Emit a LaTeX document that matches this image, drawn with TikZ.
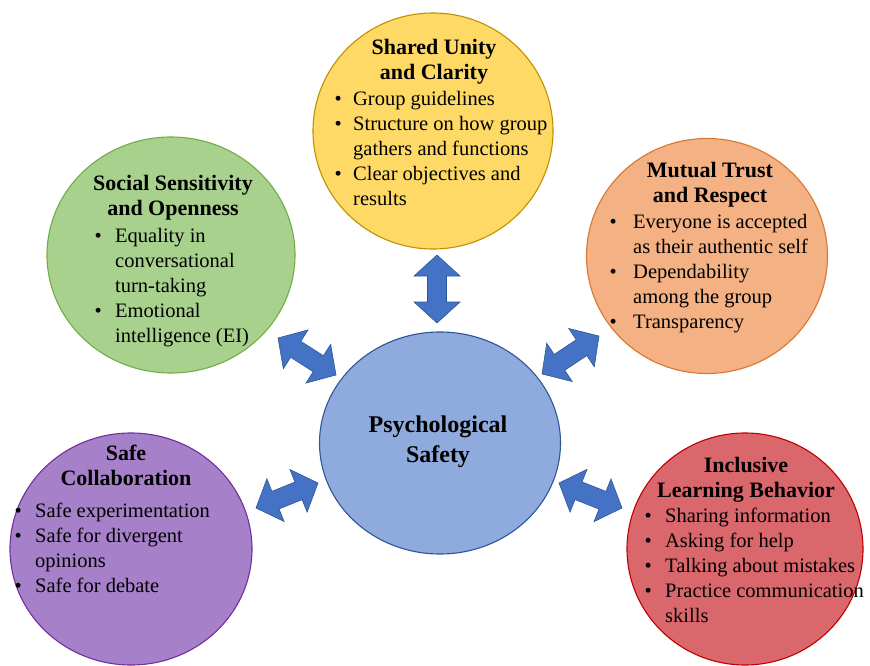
\documentclass[tikz,border=0pt]{standalone}
\usepackage{fontspec}
\setmainfont{Liberation Serif}
\usetikzlibrary{shapes.geometric,calc}
\definecolor{yelF}{HTML}{FFD966}\definecolor{yelD}{HTML}{BF9000}
\definecolor{grnF}{HTML}{A9D18E}\definecolor{grnD}{HTML}{70AD47}
\definecolor{orgF}{HTML}{F4B183}\definecolor{orgD}{HTML}{D9762F}
\definecolor{purF}{HTML}{A680C8}\definecolor{purD}{HTML}{7030A0}
\definecolor{redF}{HTML}{DA676B}\definecolor{redD}{HTML}{C00000}
\definecolor{ctrF}{HTML}{8FAADC}\definecolor{ctrD}{HTML}{2F5597}
\definecolor{arrF}{HTML}{4472C4}\definecolor{arrD}{HTML}{2F5597}
\tikzset{
  bubble/.style={ellipse, inner sep=0pt, line width=1.1pt},
  ttl/.style={font=\bfseries\fontsize{22}{25}\selectfont, inner sep=0pt, anchor=base},
  ctrttl/.style={font=\bfseries\fontsize{24}{30}\selectfont, inner sep=0pt, anchor=base},
  body/.style={font=\fontsize{20.5}{25}\selectfont, inner sep=0pt, anchor=base west},
  blockarrow/.style={fill=arrF, draw=arrD, line width=0.6pt, line join=miter},
}
\newcommand\dblarr[2]{%
  \path ($(#1)!21pt!(#2)$) coordinate (p1) ($(#2)!21pt!(#1)$) coordinate (p2);
  \draw[blockarrow] (#1) -- ($(p1)!23pt!90:(#2)$) -- ($(p1)!9.5pt!90:(#2)$)
    -- ($(p2)!9.5pt!-90:(#1)$) -- ($(p2)!23pt!-90:(#1)$) -- (#2)
    -- ($(p2)!23pt!90:(#1)$) -- ($(p2)!9.5pt!90:(#1)$)
    -- ($(p1)!9.5pt!-90:(#2)$) -- ($(p1)!23pt!-90:(#2)$) -- cycle;}
\begin{document}
\begin{tikzpicture}[x=1pt,y=-1pt]
\useasboundingbox (0,0) rectangle (870,666);
% circles
\node[bubble, fill=yelF, draw=yelD, minimum width=240pt, minimum height=236pt] (yel) at (433,131) {};
\node[bubble, fill=grnF, draw=grnD, minimum width=248pt, minimum height=236pt] (grn) at (171,255) {};
\node[bubble, fill=orgF, draw=orgD, minimum width=241pt, minimum height=235pt] (org) at (707,256) {};
\node[bubble, fill=ctrF, draw=ctrD, minimum width=241pt, minimum height=222pt] (ctr) at (440,443) {};
\node[bubble, fill=purF, draw=purD, minimum width=242pt, minimum height=232pt] (pur) at (131,549) {};
\node[bubble, fill=redF, draw=redD, minimum width=236pt, minimum height=232pt] (red) at (745,549) {};
% arrows
\coordinate (a1) at (437,255); \coordinate (b1) at (437,323);
\coordinate (a2) at (278,338); \coordinate (b2) at (336,375);
\coordinate (a3) at (542,374); \coordinate (b3) at (599,336);
\coordinate (a4) at (256,508); \coordinate (b4) at (318,483);
\coordinate (a5) at (559,483); \coordinate (b5) at (622,508);
\dblarr{a1}{b1}
\dblarr{a2}{b2}
\dblarr{a3}{b3}
\dblarr{a4}{b4}
\dblarr{a5}{b5}
% texts
\node[ctrttl] (ctrT) at (438,432) {\begin{tabular}[t]{@{}c@{}}Psychological\\Safety\end{tabular}};

\node[ttl] (yelT) at (434,55) {\begin{tabular}[t]{@{}c@{}}Shared Unity\\and Clarity\end{tabular}};
\node[body] (yelB) at (334.5,106) {\begin{tabular}[t]{@{}p{18.5pt}@{}l@{}}
\textbullet & Group guidelines\\
\textbullet & Structure on how group\\
 & gathers and functions\\
\textbullet & Clear objectives and\\
 & results\end{tabular}};

\node[ttl] (grnT) at (173,190) {\begin{tabular}[t]{@{}c@{}}Social Sensitivity\\and Openness\end{tabular}};
\node[body] (grnB) at (94.5,242) {\begin{tabular}[t]{@{}p{20.5pt}@{}l@{}}
\textbullet & Equality in\\
 & conversational\\
 & turn-taking\\
\textbullet & Emotional\\
 & intelligence (EI)\end{tabular}};

\node[ttl] (orgT) at (710,177) {\begin{tabular}[t]{@{}c@{}}Mutual Trust\\and Respect\end{tabular}};
\node[body] (orgB) at (609.5,228) {\begin{tabular}[t]{@{}p{23.5pt}@{}l@{}}
\textbullet & Everyone is accepted\\
 & as their authentic self\\
\textbullet & Dependability\\
 & among the group\\
\textbullet & Transparency\end{tabular}};

\node[ttl] (purT) at (126,460) {\begin{tabular}[t]{@{}c@{}}Safe\\Collaboration\end{tabular}};
\node[body] (purB) at (14.5,517) {\begin{tabular}[t]{@{}p{20.5pt}@{}l@{}}
\textbullet & Safe experimentation\\
\textbullet & Safe for divergent\\
 & opinions\\
\textbullet & Safe for debate\end{tabular}};

\node[ttl] (redT) at (746,472) {\begin{tabular}[t]{@{}c@{}}Inclusive\\Learning Behavior\end{tabular}};
\node[body] (redB) at (644.5,522) {\begin{tabular}[t]{@{}p{20.5pt}@{}l@{}}
\textbullet & Sharing information\\
\textbullet & Asking for help\\
\textbullet & Talking about mistakes\\
\textbullet & Practice communication\\
 & skills\end{tabular}};
\end{tikzpicture}
\end{document}
